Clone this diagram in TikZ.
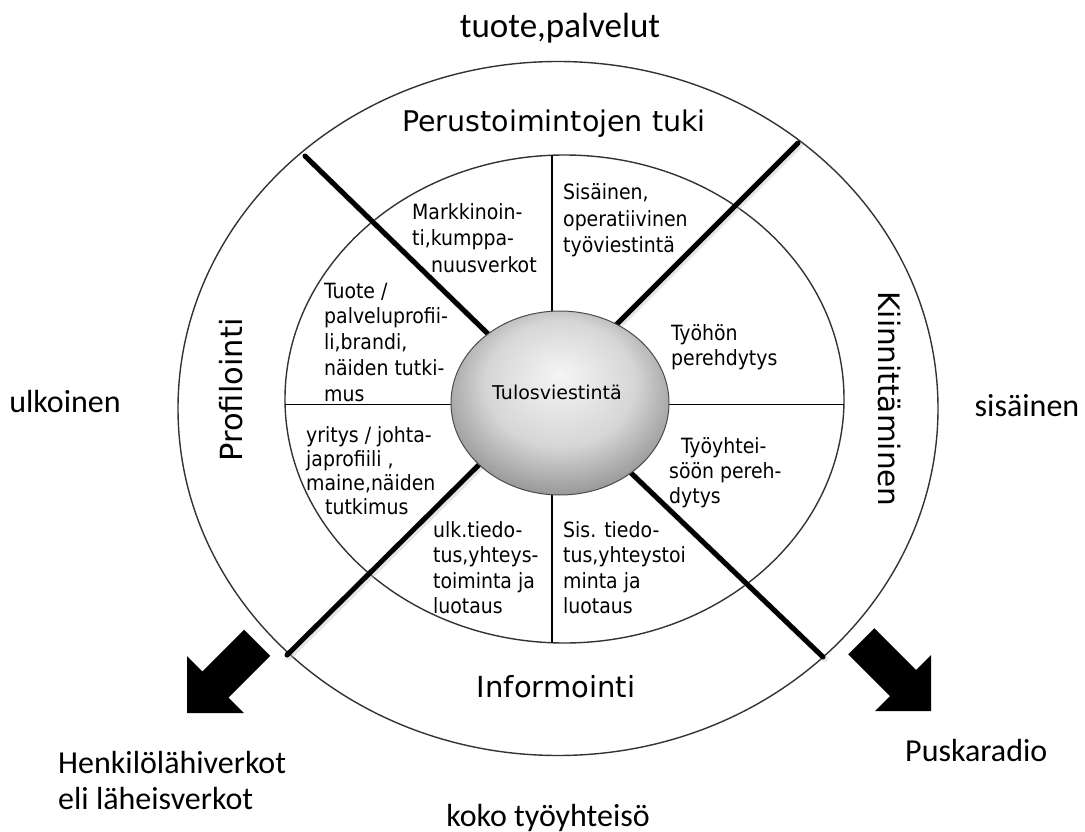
\documentclass[tikz,border=0pt]{standalone}
\usepackage{fontspec}
\newfontfamily\ringfont{DejaVu Sans}
\newfontfamily\cellfont{DejaVu Sans Condensed}
\newfontfamily\outerfont{Carlito}
\usetikzlibrary{shapes.geometric}

% soft grey sphere, lit from above
\pgfdeclareradialshading{greyball}{\pgfpoint{0bp}{8bp}}{%
  color(0bp)=(black!4); color(17bp)=(black!16); color(33bp)=(black!50); color(50bp)=(black!52)}

% stacked lines, first baseline is the box baseline
\newcommand\cellstack[2][25]{\vtop{\baselineskip=#1pt\lineskiplimit=-50pt\lineskip=0pt #2}}

\begin{document}
\begin{tikzpicture}[x=1pt,y=-1pt,
  ringline/.style={line width=1.4pt, black!80},
  divider/.style={line width=1.3pt, black},
  spoke/.style={line width=5pt, line cap=round, black},
  spokeshadow/.style={line width=6pt, line cap=round, black!25, opacity=0.4},
  ringlabel/.style={inner sep=0pt},
  cell/.style={font={\cellfont\fontsize{21}{25}\selectfont}, inner sep=0pt, anchor=base west},
  outerlabel/.style={font={\outerfont\fontsize{32}{36}\selectfont}, inner sep=0pt},
  blockarrow/.style={fill=black}
]
\useasboundingbox (0,0) rectangle (1085,832);

% outer and inner rings
\node[ellipse, draw, ringline, minimum width=760pt, minimum height=694pt, inner sep=0pt] (outerring) at (558,408.5) {};
\node[ellipse, draw, ringline, minimum width=559pt, minimum height=488pt, inner sep=0pt] (innerring) at (564.5,399) {};

% quadrant dividers
\coordinate (vtop) at (552,155.5);
\coordinate (vbot) at (552,642.5);
\coordinate (hleft) at (285,404.5);
\coordinate (hright) at (844,404.5);
\draw[divider] (vtop) -- (vbot);
\draw[divider] (hleft) -- (hright);

% diagonal spokes
\coordinate (tlout) at (305,156);  \coordinate (tlin) at (520,365);
\coordinate (trout) at (798,143);  \coordinate (trin) at (590,351);
\coordinate (blout) at (287,655);  \coordinate (blin) at (505,439);
\coordinate (brout) at (823,657);  \coordinate (brin) at (605,448);
\foreach \a/\b in {tlout/tlin, trout/trin, blout/blin, brout/brin}{
  \draw[spokeshadow, transform canvas={shift={(2pt,-2pt)}}] (\a) -- (\b);
  \draw[spoke] (\a) -- (\b);
}

% centre sphere
\node[ellipse, draw=black!70, line width=1pt, shading=greyball, minimum width=218pt, minimum height=184pt, inner sep=0pt] (ball) at (560,403) {};
\node[font={\ringfont\fontsize{19}{22}\selectfont}, inner sep=0pt, anchor=base] (balltext) at (557,399) {Tulosviestintä};

% ring labels
\node[ringlabel, font={\ringfont\fontsize{28.5}{32}\selectfont}, anchor=base] (perus) at (554,132) {Perustoimintojen tuki};
\node[ringlabel, font={\ringfont\fontsize{29}{32}\selectfont}, anchor=base] (inform) at (556,697) {Informointi};
\node[ringlabel, font={\ringfont\fontsize{30.5}{32}\selectfont}, anchor=base, rotate=90] (profil) at (242,390) {Profilointi};
\node[ringlabel, font={\ringfont\fontsize{29.5}{32}\selectfont}, anchor=base, rotate=-90] (kiinn) at (878,399) {Kiinnittäminen};

% sector texts
\node[cell] (markk) at (412,219) {\cellstack[26.5]{\hbox{Markkinoin-}\hbox{ti,kumppa-}\hbox{\hspace*{19pt}nuusverkot}}};
\node[cell] (sisop) at (563,200) {\cellstack[26.5]{\hbox{Sisäinen,}\hbox{operatiivinen}\hbox{työviestintä}}};
\node[cell] (tuoteprof) at (324,298) {\cellstack[25.8]{\hbox{Tuote /}\hbox{palveluprofii-}\hbox{li,brandi,}\hbox{näiden tutki-}\hbox{mus}}};
\node[cell] (tyohon) at (671,340) {\cellstack{\hbox{Työhön}\hbox{perehdytys}}};
\node[cell] (yritys) at (306,442) {\cellstack[24]{\hbox{yritys / johta-}\hbox{japrofiili ,}\hbox{maine,näiden}\hbox{\hspace*{19pt}tutkimus}}};
\node[cell] (tyoyht) at (669,453) {\cellstack{\hbox{\hspace*{12pt}Työyhtei-}\hbox{söön pereh-}\hbox{dytys}}};
\node[cell] (ulktied) at (433,537) {\cellstack[25.5]{\hbox{ulk.tiedo-}\hbox{tus,yhteys-}\hbox{toiminta ja}\hbox{luotaus}}};
\node[cell] (sistied) at (563,537) {\cellstack[25.5]{\hbox{Sis. tiedo-}\hbox{tus,yhteystoi}\hbox{minta ja}\hbox{luotaus}}};

% labels around the rings
\node[outerlabel, font={\outerfont\fontsize{35}{38}\selectfont}, anchor=base] (tuote) at (560,38) {tuote,palvelut};
\node[outerlabel, anchor=base] (ulkoinen) at (65,412) {ulkoinen};
\node[outerlabel, anchor=base] (sisainen) at (1027,416) {sisäinen};
\node[outerlabel, anchor=base west] (henk) at (58,773) {\cellstack[36]{\hbox{Henkilölähiverkot}\hbox{eli läheisverkot}}};
\node[outerlabel, anchor=base west] (pusk) at (905,761) {Puskaradio};
\node[outerlabel, anchor=base] (koko) at (548,826) {koko työyhteisö};

% block arrows
\fill[blockarrow] (187,713) -- (187,656) -- (202.4,671.4) -- (244.1,629.7) -- (270.3,655.9) -- (228.6,697.6) -- (244,713) -- cycle;
\fill[blockarrow] (931,711) -- (931,655) -- (916.1,669.9) -- (874.4,628.2) -- (848.2,654.4) -- (889.9,696.1) -- (875,711) -- cycle;
\end{tikzpicture}
\end{document}
